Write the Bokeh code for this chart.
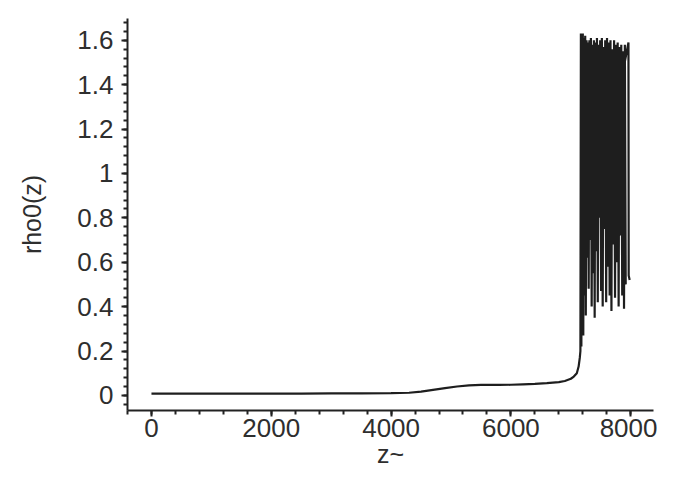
from bokeh.plotting import figure
from bokeh.models import FixedTicker, Range1d, CustomJSTickFormatter
from bokeh.embed import file_html
from bokeh.resources import INLINE

# smooth part of rho0(z)
z_smooth = [0, 500, 1000, 1500, 2000, 2500, 3000, 3500, 4000, 4300, 4500, 4700,
            4900, 5100, 5300, 5500, 5800, 6000, 6200, 6400, 6600, 6800, 6900,
            7000, 7050, 7100, 7130, 7150]
rho_smooth = [0.008, 0.008, 0.008, 0.008, 0.008, 0.008, 0.009, 0.009, 0.010,
              0.012, 0.017, 0.025, 0.033, 0.040, 0.045, 0.047, 0.047, 0.048,
              0.050, 0.052, 0.055, 0.060, 0.065, 0.075, 0.085, 0.100, 0.130, 0.170]

# oscillating part
z_osc = [7160, 7168, 7176, 7184, 7192, 7200, 7208, 7218, 7228, 7240, 7250, 7262,
         7272, 7285, 7298, 7310, 7322, 7335, 7348, 7360, 7372, 7385, 7398, 7410,
         7424, 7436, 7450, 7463, 7476, 7490, 7505, 7518, 7532, 7546, 7560, 7574,
         7590, 7604, 7618, 7632, 7648, 7662, 7678, 7692, 7708, 7722, 7738, 7752,
         7768, 7782, 7798, 7812, 7828, 7842, 7858, 7872, 7888, 7902, 7916, 7780,
         7962, 7966, 7982]
rho_osc = [0.20, 1.63, 0.22, 1.62, 0.30, 1.63, 0.27, 1.61, 0.45, 1.62, 0.36, 1.60,
           0.62, 1.59, 0.48, 1.60, 0.70, 1.61, 0.40, 1.58, 0.55, 1.60, 0.35, 1.59,
           0.65, 1.61, 0.42, 1.58, 0.80, 1.60, 0.47, 1.61, 0.40, 1.57, 0.75, 1.60,
           0.42, 1.61, 0.58, 1.59, 0.45, 1.60, 0.38, 1.56, 0.68, 1.60, 0.44, 1.58,
           0.60, 1.59, 0.40, 1.57, 0.72, 1.58, 0.45, 1.55, 0.39, 1.58, 0.50, 1.33,
           1.59, 0.54, 0.52]

z_all = z_smooth + z_osc
rho_all = rho_smooth + rho_osc

x_major = [0, 2000, 4000, 6000, 8000]
y_major = [0, 0.2, 0.4, 0.6, 0.8, 1.0, 1.2, 1.4, 1.6]

p = figure(width=657, height=471, output_backend="svg", toolbar_location=None,
           x_range=Range1d(-400, 8380), y_range=Range1d(-0.068, 1.698),
           min_border_left=127, min_border_right=4, min_border_top=18,
           min_border_bottom=61)
p.outline_line_color = None
p.xgrid.visible = False
p.ygrid.visible = False
p.background_fill_color = "white"
p.border_fill_color = "white"

p.line(z_all, rho_all, line_color="#1e1e1e", line_width=2.2)

x_minor = [-400 + 400 * i for i in range(23)]
y_minor = [round(-0.04 + 0.04 * i, 2) for i in range(44)]

txt = "#2e2e2e"
font = "Liberation Sans"

xa = p.xaxis[0]
xa.ticker = FixedTicker(ticks=x_major, minor_ticks=x_minor)
xa.axis_label = "z~"
ya = p.yaxis[0]
ya.ticker = FixedTicker(ticks=y_major, minor_ticks=y_minor)
ya.formatter = CustomJSTickFormatter(code="return tick.toFixed(1).replace(/\\.0$/, '');")
ya.axis_label = "rho0(z)"

for ax in (xa, ya):
    ax.axis_line_color = "#222222"
    ax.axis_line_width = 2
    ax.major_tick_line_color = "#222222"
    ax.major_tick_line_width = 2
    ax.minor_tick_line_color = "#222222"
    ax.minor_tick_line_width = 2
    ax.major_tick_in = 0
    ax.minor_tick_in = 0
    ax.major_tick_out = 6
    ax.minor_tick_out = 4
    ax.major_label_text_font = font
    ax.major_label_text_font_size = "26px"
    ax.major_label_text_color = txt
    ax.axis_label_text_font = font
    ax.axis_label_text_font_size = "25px"
    ax.axis_label_text_font_style = "normal"
    ax.axis_label_text_color = txt

xa.major_label_standoff = 2
xa.axis_label_standoff = 0
ya.major_label_standoff = 8
ya.axis_label_standoff = 28

open("out.html", "w").write(file_html(p, INLINE))
